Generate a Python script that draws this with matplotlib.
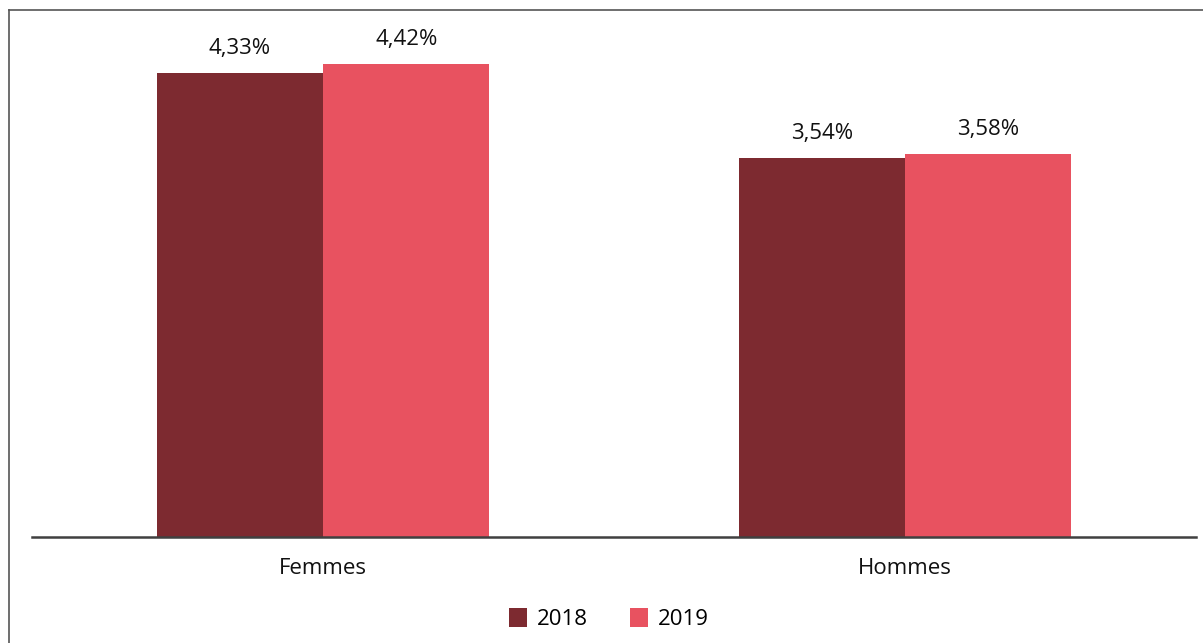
import matplotlib
matplotlib.use("Agg")
import matplotlib.pyplot as plt
from matplotlib.lines import Line2D
from matplotlib.patches import Patch
import numpy as np

categories = ["Femmes", "Hommes"]
years = ["2018", "2019"]
values_2018 = [4.33, 3.54]
values_2019 = [4.42, 3.58]
colors = ["#7D2A30", "#E85260"]

plt.rcParams['font.family'] = ['Open Sans', 'DejaVu Sans']

W, H = 1203, 643
fig = plt.figure(figsize=(W / 100, H / 100), dpi=100)
ax = fig.add_axes([32 / W, 106 / H, 1164 / W, 535.5 / H])

x = np.arange(len(categories))
bw = 0.286
series = [values_2018, values_2019]
for i, (vals, col) in enumerate(zip(series, colors)):
    pos = x + (i - 0.5) * bw
    bars = ax.bar(pos, vals, width=bw, color=col, zorder=2)
    for b, v in zip(bars, vals):
        ax.annotate(f"{v:.2f}%".replace(".", ","),
                    (b.get_x() + b.get_width() / 2, v),
                    xytext=(0, 10), textcoords="offset points",
                    ha="center", va="bottom", fontsize=16, color="#111111")

ax.set_xlim(-0.5, 1.5)
ax.set_ylim(0, 5)
ax.set_yticks([])
ax.set_xticks(x)
ax.set_xticklabels(categories, fontsize=16, color="#111111")
ax.tick_params(axis="x", length=0, pad=15)
for s in ["top", "right", "left"]:
    ax.spines[s].set_visible(False)
ax.spines["bottom"].set_color("#404040")
ax.spines["bottom"].set_linewidth(1.8)
ax.spines["bottom"].set_zorder(3)

handles = [Patch(facecolor=c, edgecolor="none") for c in colors]
fig.legend(handles, years, loc="center", bbox_to_anchor=(609 / W, 24 / H),
           ncol=2, frameon=False, fontsize=16, handlelength=0.8,
           handleheight=0.9, handletextpad=0.45, columnspacing=1.9)

# outer frame lines (left and top)
fig.add_artist(Line2D([8.5 / W, 8.5 / W], [0, 1 - 9.5 / H], color="#555555", lw=1.2))
fig.add_artist(Line2D([8.5 / W, 1], [1 - 9.5 / H, 1 - 9.5 / H], color="#555555", lw=1.2))

fig.savefig("out.png", dpi=100, facecolor="white")
